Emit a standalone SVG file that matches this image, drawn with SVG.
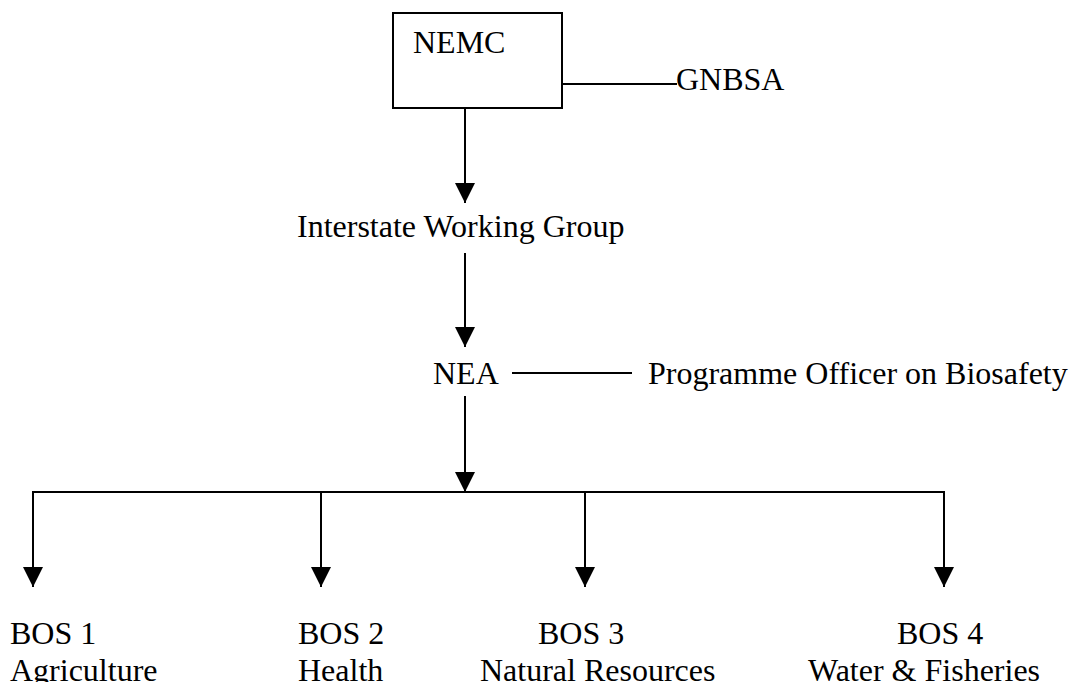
<svg xmlns="http://www.w3.org/2000/svg" width="1071" height="682" viewBox="0 0 1071 682">
<style>
text{font-family:"Liberation Serif","Times New Roman",serif;font-size:32px;fill:#000}
.c{stroke:#000;stroke-width:2;fill:none}
</style>
<defs>
<marker id="ah" markerUnits="userSpaceOnUse" markerWidth="20" markerHeight="20" refX="20" refY="10" orient="auto" viewBox="0 0 20 20">
<path d="M0,0 L20,10 L0,20 z" fill="#000"/>
</marker>
</defs>
<rect width="1071" height="682" fill="#fff"/>
<g id="connectors">
<line class="c" x1="562" y1="84" x2="677" y2="84"/>
<line class="c" x1="465" y1="108" x2="465" y2="203" marker-end="url(#ah)"/>
<line class="c" x1="465" y1="253" x2="465" y2="347" marker-end="url(#ah)"/>
<line class="c" x1="512" y1="373" x2="632" y2="373"/>
<line class="c" x1="465" y1="396" x2="465" y2="492" marker-end="url(#ah)"/>
<polyline class="c" points="33,587 33,492 944,492 944,587" marker-end="url(#ah)"/>
<line class="c" x1="33" y1="492" x2="33" y2="587" marker-end="url(#ah)"/>
<line class="c" x1="321" y1="492" x2="321" y2="587" marker-end="url(#ah)"/>
<line class="c" x1="585" y1="492" x2="585" y2="587" marker-end="url(#ah)"/>
</g>
<g id="nemc">
<rect class="c" x="393" y="13" width="169" height="95"/>
<text x="413" y="53">NEMC</text>
</g>
<g id="gnbsa"><text x="676" y="90">GNBSA</text></g>
<g id="iwg"><text x="297" y="237">Interstate Working Group</text></g>
<g id="nea"><text x="433" y="384">NEA</text></g>
<g id="pob"><text x="648" y="384">Programme Officer on Biosafety</text></g>
<g id="bos1"><text x="10" y="644">BOS 1</text><text x="10" y="681">Agriculture</text></g>
<g id="bos2"><text x="298" y="644">BOS 2</text><text x="298" y="681">Health</text></g>
<g id="bos3"><text x="538" y="644">BOS 3</text><text x="480" y="681">Natural Resources</text></g>
<g id="bos4"><text x="897" y="644">BOS 4</text><text x="808" y="681">Water &amp; Fisheries</text></g>
</svg>
